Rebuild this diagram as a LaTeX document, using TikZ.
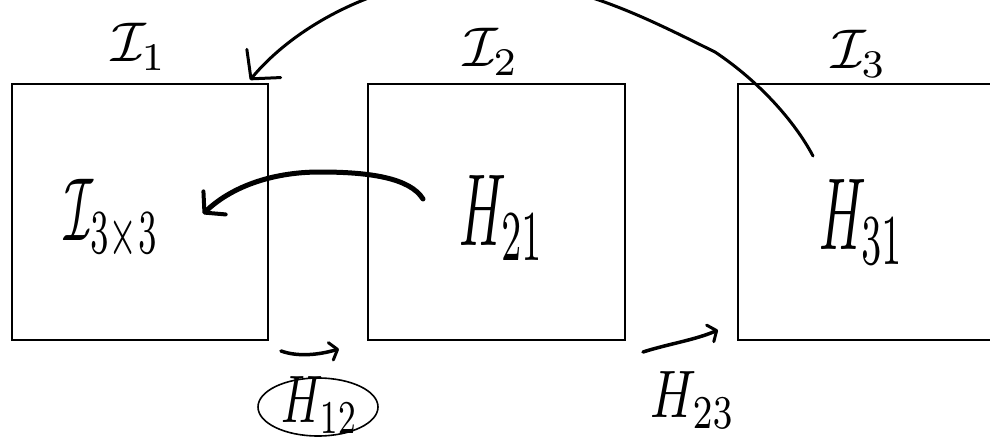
\documentclass[tikz,border=0pt]{standalone}
\usetikzlibrary{arrows.meta,shapes.geometric}
\begin{document}
\begin{tikzpicture}[x=1pt,y=-1pt,
  box/.style={draw, line width=1.6pt, minimum width=256pt, minimum height=256pt, inner sep=0pt},
  lab/.style={inner sep=0pt},
  pen/.style={line width=3pt, line cap=round, line join=round},
  thickpen/.style={line width=5pt, line cap=round, line join=round},
  bighook/.style={-{Straight Barb[length=20pt,width=44pt,line width=3pt,round]}},
  midhook/.style={-{Straight Barb[length=14pt,width=32pt,line width=4pt,round]}},
  smallhook/.style={-{Straight Barb[length=7pt,width=18pt,line width=3pt,round]}},
  ring/.style={ellipse, draw, line width=1.6pt, minimum width=120pt, minimum height=58pt, inner sep=0pt}
]
\useasboundingbox (0,0) rectangle (990,441);
\clip (0,0) rectangle (990,441);
\fill[white] (0,0) rectangle (990,441);

% boxes
\node[box] (b1) at (140,212) {};
\node[box, minimum width=257pt] (b2) at (496.5,212) {};
\node[box, minimum width=280pt] (b3) at (878,212) {};

% labels
\node[lab] (i1) at (139,47) {\scalebox{5.6}{$\mathcal{I}_1$}};
\node[lab] (i2) at (491,52) {\scalebox{5.6}{$\mathcal{I}_2$}};
\node[lab] (i3) at (859,54) {\scalebox{5.6}{$\mathcal{I}_3$}};
\node[lab] (i33) at (112,220) {\scalebox{4.67}[8.96]{$\mathcal{I}_{3\times3}$}};
\node[lab] (h21) at (502,218) {\scalebox{5.12}[10.24]{$H_{21}$}};
\node[lab] (h31) at (862,222) {\scalebox{5.12}[10.24]{$H_{31}$}};
\node[ring] (h12c) at (318,407) {};
\node[lab] (h12) at (320,405) {\scalebox{4.56}[6.72]{$H_{12}$}};
\node[lab] (h23) at (693,400) {\scalebox{5.04}[6.72]{$H_{23}$}};

% connectors
\coordinate (a1s) at (813,156);
\coordinate (a1e) at (250,80);
\draw[pen, bighook] (a1s) .. controls (795,122) and (760,82) .. (715,52)
  .. controls (640,15) and (570,-22) .. (470,-22)
  .. controls (390,-22) and (300,20) .. (a1e);

\coordinate (a2s) at (423,199);
\coordinate (a2e) at (203,214);
\draw[thickpen, midhook] (a2s) .. controls (410,178) and (370,172) .. (320,172)
  .. controls (270,172) and (230,188) .. (a2e);

\coordinate (a3s) at (281,351);
\coordinate (a3e) at (339,349);
\draw[pen, line width=3.5pt, smallhook] (a3s) .. controls (298,357) and (318,355) .. (a3e);

\coordinate (a4s) at (643,352);
\coordinate (a4e) at (718,330);
\draw[pen, line width=3.5pt, smallhook] (a4s) .. controls (668,344) and (695,340) .. (a4e);
\end{tikzpicture}
\end{document}
